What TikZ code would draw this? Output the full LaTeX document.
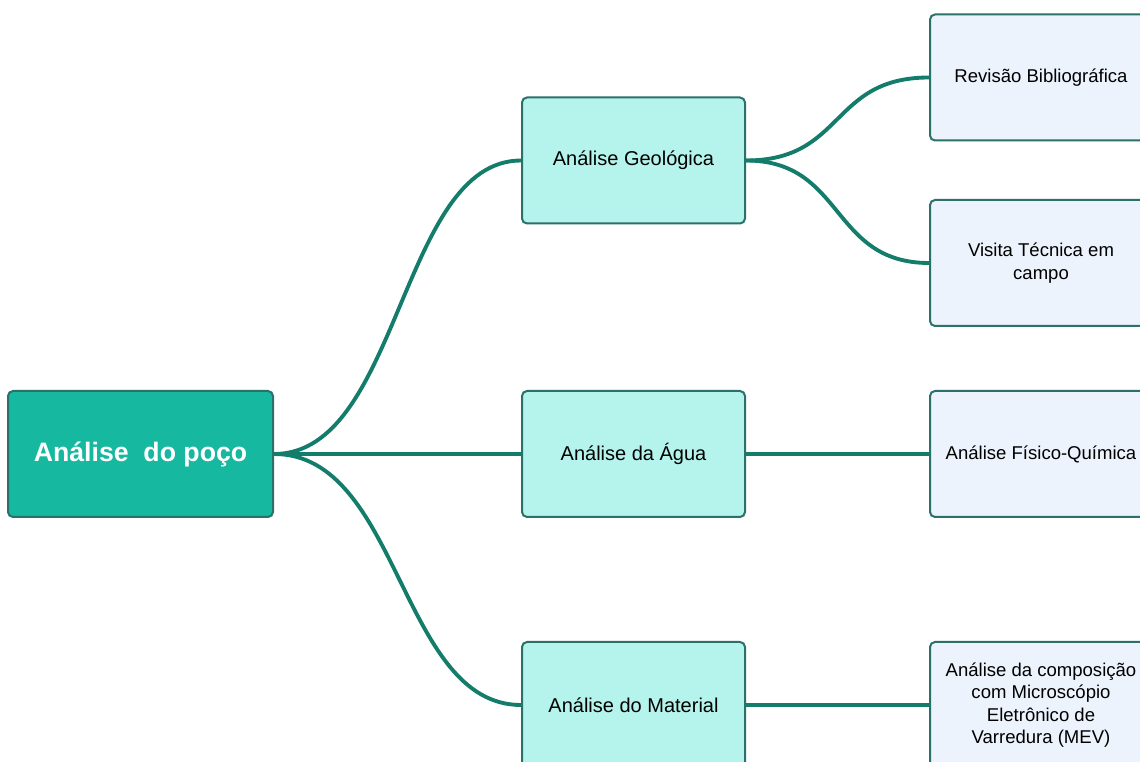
\documentclass[tikz,border=0pt]{standalone}
\usepackage{amsmath}
\usepackage{xcolor}
\usepackage{fontspec}
\usepackage{tikz}
\setmainfont{Liberation Sans}

\definecolor{rootfill}{RGB}{22,184,160}
\definecolor{boxline}{RGB}{44,112,106}
\definecolor{midfill}{RGB}{181,244,236}
\definecolor{leaffill}{RGB}{236,243,253}
\definecolor{linkcol}{RGB}{20,124,106}

\begin{document}
\begin{tikzpicture}[x=0.75pt,y=0.75pt,yscale=-1,xscale=1,
  rootbox/.style={draw=boxline,line width=1.5pt,fill=rootfill,rounded corners=3.75pt,minimum width=198.75pt,minimum height=94.5pt,text=white,font=\fontsize{20}{24}\selectfont\bfseries},
  midbox/.style={draw=boxline,line width=1.5pt,fill=midfill,rounded corners=3.75pt,minimum width=167.25pt,minimum height=94.5pt,font=\fontsize{15}{18}\selectfont},
  leafbox/.style={draw=boxline,line width=1.5pt,fill=leaffill,rounded corners=3.75pt,minimum width=166.5pt,minimum height=94.5pt,align=center,font=\fontsize{13.9}{16.9}\selectfont},
  link/.style={draw=linkcol,line width=2.9pt}]
\useasboundingbox (0,0) rectangle (1140,762);
\node[rootbox] (poco) at (140.5,454) {Análise\ \ do poço};
\node[midbox] (geo) at (633.5,160.5) {Análise Geológica};
\node[midbox] (agua) at (633.5,454) {Análise da Água};
\node[midbox] (mat) at (633.5,705) {Análise do Material};
\node[leafbox] (rev) at (1041,77.5) {Revisão Bibliográfica};
\node[leafbox] (vis) at (1041,263) {Visita Técnica em\\campo};
\node[leafbox] (fq) at (1041,454) {Análise Físico-Química};
\node[leafbox] (mev) at (1041,705) {Análise da composição\\com Microscópio\\Eletrônico de\\Varredura (MEV)};
\draw[link] (poco.east) .. controls (400,454) and (400,160.5) .. (geo.west);
\draw[link] (poco.east) -- (agua.west);
\draw[link] (poco.east) .. controls (400,454) and (400,705) .. (mat.west);
\draw[link] (geo.east) .. controls (845,160.5) and (830,77.5) .. (rev.west);
\draw[link] (geo.east) .. controls (845,160.5) and (830,263) .. (vis.west);
\draw[link] (agua.east) -- (fq.west);
\draw[link] (mat.east) -- (mev.west);
\end{tikzpicture}
\end{document}
